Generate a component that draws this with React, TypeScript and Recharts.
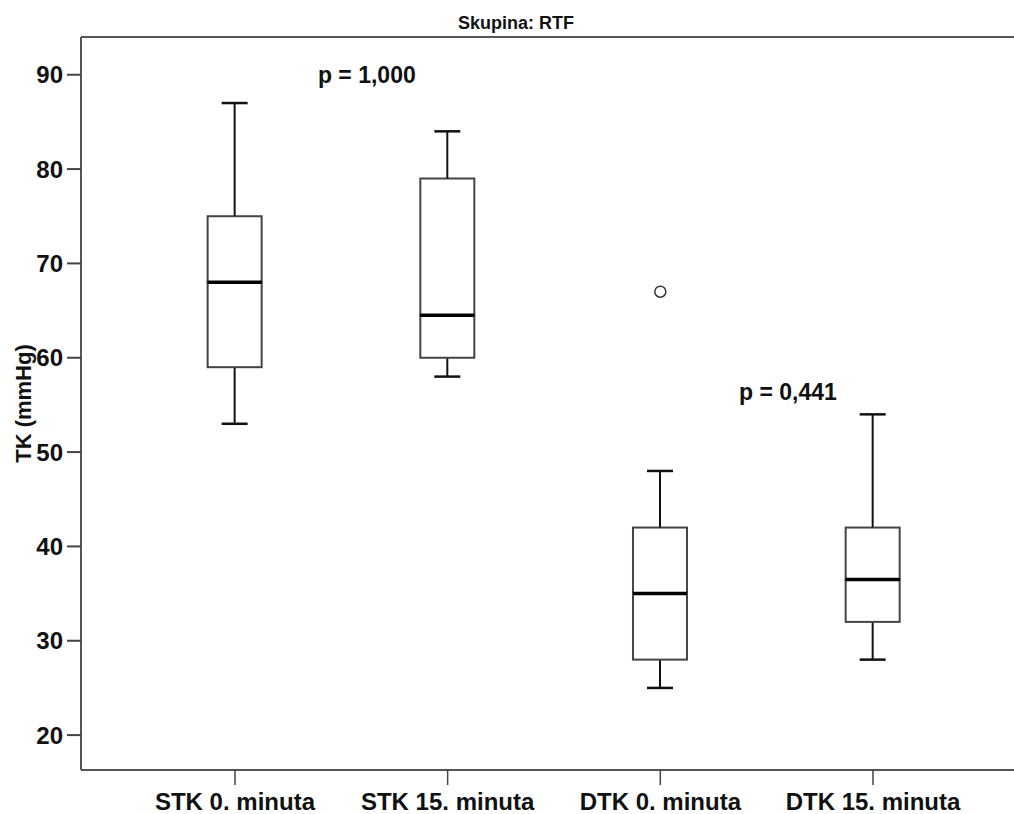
import React from 'react';
import { ComposedChart, Bar, XAxis, YAxis, ReferenceDot } from 'recharts';

// five-number summaries per measurement (mmHg)
const groups = ['STK 0. minuta', 'STK 15. minuta', 'DTK 0. minuta', 'DTK 15. minuta'];
const minimum = [53, 58, 25, 28];
const q1 = [59, 60, 28, 32];
const median = [68, 64.5, 35, 36.5];
const q3 = [75, 79, 42, 42];
const maximum = [87, 84, 48, 54];

const outliers = [{ x: 3, y: 67 }];
const pLabels = [
  { x: 1.62, y: 90, text: 'p = 1,000' },
  { x: 3.6, y: 56.4, text: 'p = 0,441' },
];
const yTicks = [20, 30, 40, 50, 60, 70, 80, 90];

const FONT = '"Liberation Sans", Arial, sans-serif';
const CAP = 26;

// stacked segments: invisible base, lower whisker, two box halves, upper whisker
const data = groups.map((name, i) => ({
  pos: i + 1,
  name,
  base: minimum[i],
  lowWhisker: q1[i] - minimum[i],
  lowBox: median[i] - q1[i],
  highBox: q3[i] - median[i],
  highWhisker: maximum[i] - q3[i],
}));

const LowWhisker = (props) => {
  const { x, y, width, height } = props;
  const cx = x + width / 2;
  return (
    <g>
      <line x1={cx} x2={cx} y1={y} y2={y + height} stroke="#111" strokeWidth={2} />
      <line x1={cx - CAP / 2} x2={cx + CAP / 2} y1={y + height} y2={y + height} stroke="#111" strokeWidth={2.5} />
    </g>
  );
};

const HighWhisker = (props) => {
  const { x, y, width, height } = props;
  const cx = x + width / 2;
  return (
    <g>
      <line x1={cx} x2={cx} y1={y} y2={y + height} stroke="#111" strokeWidth={2} />
      <line x1={cx - CAP / 2} x2={cx + CAP / 2} y1={y} y2={y} stroke="#111" strokeWidth={2.5} />
    </g>
  );
};

const BoxHalf = (props) => {
  const { x, y, width, height } = props;
  return <rect x={x} y={y} width={width} height={height} fill="#fff" stroke="#444" strokeWidth={2} />;
};

// upper half of the box; its bottom edge sits on the median
const MedianHalf = (props) => {
  const { x, y, width, height } = props;
  return (
    <g>
      <rect x={x} y={y} width={width} height={height} fill="#fff" stroke="#444" strokeWidth={2} />
      <line x1={x} x2={x + width} y1={y + height} y2={y + height} stroke="#000" strokeWidth={3.5} />
    </g>
  );
};

const PText = ({ cx, cy, text }) => (
  <text
    x={cx}
    y={cy}
    textAnchor="middle"
    dominantBaseline="central"
    fontFamily={FONT}
    fontWeight="bold"
    fontSize={23}
    fill="#111"
  >
    {text}
  </text>
);

const tickStyle = { fontSize: 24, fontWeight: 'bold', fill: '#111', fontFamily: FONT };

export default function App() {
  return (
    <div style={{ position: 'absolute', left: 0, top: 0, width: 1014, height: 814, fontFamily: FONT }}>
      <div
        style={{
          position: 'absolute',
          left: 0,
          top: 13,
          width: 1032,
          textAlign: 'center',
          fontSize: 18,
          fontWeight: 'bold',
          color: '#111',
        }}
      >
        Skupina: RTF
      </div>
      <ComposedChart width={1014} height={814} data={data} margin={{ top: 36, right: 0, bottom: 0, left: 0 }}>
        <XAxis
          xAxisId="frame"
          orientation="top"
          type="number"
          dataKey="pos"
          domain={[0.276, 4.663]}
          height={1}
          tick={false}
          tickLine={false}
          axisLine={{ stroke: '#555', strokeWidth: 2 }}
        />
        <XAxis
          dataKey="pos"
          type="number"
          domain={[0.276, 4.663]}
          ticks={[1, 2, 3, 4]}
          tickFormatter={(v) => groups[v - 1]}
          height={44}
          tickSize={15}
          tickMargin={8}
          tick={tickStyle}
          tickLine={{ stroke: '#444', strokeWidth: 1.5 }}
          axisLine={{ stroke: '#555', strokeWidth: 2 }}
          interval={0}
        />
        <YAxis
          type="number"
          domain={[16.3, 94]}
          allowDataOverflow
          ticks={yTicks}
          width={81}
          tickSize={14}
          tickMargin={4}
          tick={tickStyle}
          tickLine={{ stroke: '#444', strokeWidth: 2 }}
          axisLine={{ stroke: '#555', strokeWidth: 2 }}
          label={({ viewBox }) => {
            const cx = viewBox.x + 23;
            const cy = viewBox.y + viewBox.height / 2;
            return (
              <text
                x={cx}
                y={cy}
                transform={`rotate(-90, ${cx}, ${cy})`}
                textAnchor="middle"
                dominantBaseline="central"
                fontFamily={FONT}
                fontWeight="bold"
                fontSize={22}
                fill="#111"
              >
                TK (mmHg)
              </text>
            );
          }}
        />
        <Bar dataKey="base" stackId="box" barSize={54} fill="none" shape={() => null} isAnimationActive={false} />
        <Bar dataKey="lowWhisker" stackId="box" barSize={54} shape={<LowWhisker />} isAnimationActive={false} />
        <Bar dataKey="lowBox" stackId="box" barSize={54} shape={<BoxHalf />} isAnimationActive={false} />
        <Bar dataKey="highBox" stackId="box" barSize={54} shape={<MedianHalf />} isAnimationActive={false} />
        <Bar dataKey="highWhisker" stackId="box" barSize={54} shape={<HighWhisker />} isAnimationActive={false} />
        {outliers.map((o, i) => (
          <ReferenceDot key={`o${i}`} x={o.x} y={o.y} r={5.5} fill="#fff" stroke="#333" strokeWidth={1.5} />
        ))}
        {pLabels.map((p, i) => (
          <ReferenceDot key={`p${i}`} x={p.x} y={p.y} r={0} shape={(props) => <PText {...props} text={p.text} />} />
        ))}
      </ComposedChart>
    </div>
  );
}
